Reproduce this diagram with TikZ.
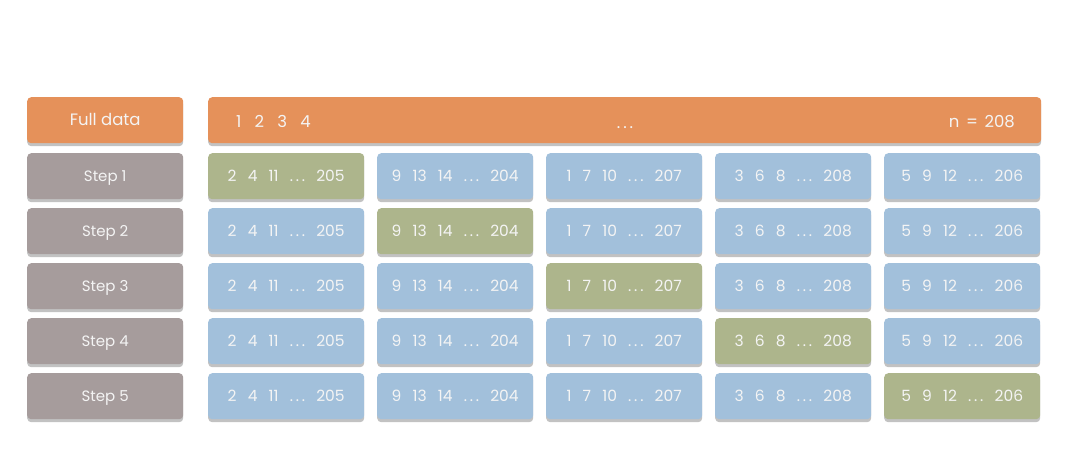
\documentclass[tikz,border=0pt]{standalone}
\usepackage{fontspec}
\setmainfont{Poppins}
\usetikzlibrary{shadows}
\definecolor{cOrange}{HTML}{E5915A}
\definecolor{cGray}{HTML}{A69C9C}
\definecolor{cGreen}{HTML}{ADB58C}
\definecolor{cBlue}{HTML}{A2C0DB}
\definecolor{cText}{HTML}{F4F4F4}
\newcommand{\gapsp}{\hspace{0.72em}}
\newcommand{\dotsx}{.\kern0.18em.\kern0.18em.}
\tikzset{
  box/.style={rounded corners=4pt, minimum height=46pt, inner sep=0pt, anchor=north west,
    text=cText, font=\fontsize{15.5}{18}\selectfont, text height=1.1em, text depth=0pt,
    drop shadow={shadow xshift=0pt, shadow yshift=-3pt, opacity=0.4, fill=black!60}},
  lbox/.style={box, fill=cGray, minimum width=156pt, font=\fontsize{15}{18}\selectfont},
  fbox/.style={box, fill=cOrange},
  test/.style={box, fill=cGreen, minimum width=156pt},
  train/.style={box, fill=cBlue, minimum width=156pt},
  lbl/.style={text=cText, inner sep=0pt, font=\fontsize{16.5}{20}\selectfont}
}
\begin{document}
\begin{tikzpicture}[x=1pt,y=-1pt]
\useasboundingbox (0,0) rectangle (1082,459);
\node[fbox, minimum width=156pt, font=\fontsize{16.5}{20}\selectfont] (full) at (27,97) {Full data};
\node[fbox, minimum width=833pt] (bar) at (208,97) {};
\node[lbl, anchor=base west] (b1) at (236,127.5) {1\hspace{0.8em}2\hspace{0.8em}3\hspace{0.8em}4};
\node[lbl, anchor=base] (b2) at (625,128) {\dotsx};
\node[lbl, anchor=base east] (b3) at (1015,127.5) {n\hspace{0.4em}=\hspace{0.4em}208};
\foreach \r in {1,...,5}{
  \pgfmathsetmacro{\yy}{153+55*(\r-1)}
  \node[lbox] (s\r) at (27,\yy) {Step \r};
  \foreach \c/\t in {1/{2\gapsp4\gapsp11\gapsp\dotsx\gapsp205},2/{9\gapsp13\gapsp14\gapsp\dotsx\gapsp204},3/{1\gapsp7\gapsp10\gapsp\dotsx\gapsp207},4/{3\gapsp6\gapsp8\gapsp\dotsx\gapsp208},5/{5\gapsp9\gapsp12\gapsp\dotsx\gapsp206}}{
    \pgfmathsetmacro{\xx}{208+169*(\c-1)}
    \ifnum\c=\r
      \node[test] (c\r\c) at (\xx,\yy) {\t};
    \else
      \node[train] (c\r\c) at (\xx,\yy) {\t};
    \fi
  }
}
\end{tikzpicture}
\end{document}
